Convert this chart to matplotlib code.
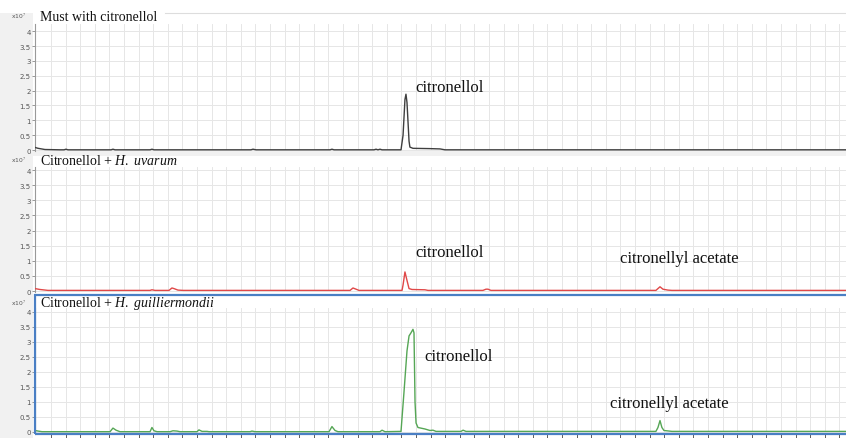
import matplotlib
matplotlib.use('Agg')
import matplotlib.pyplot as plt
from matplotlib.patches import Rectangle
from matplotlib.lines import Line2D
import numpy as np

plt.rcParams['font.family'] = 'Liberation Serif'
plt.rcParams['mathtext.fontset'] = 'custom'
plt.rcParams['mathtext.rm'] = 'Liberation Serif'
plt.rcParams['mathtext.it'] = 'Liberation Serif:italic'

# retention time (min) and abundance (x10^7) for each chromatogram
rt_must = [2.90, 3.11, 3.58, 4.61, 4.89, 5.02, 5.16, 8.11, 8.24, 8.38, 10.78, 10.91, 11.05,
           17.69, 17.83, 18.04, 23.11, 23.24, 23.38, 26.12, 26.26, 26.39, 26.53, 26.67,
           27.97, 28.11, 28.24, 28.31, 28.38, 28.52, 28.58, 28.79, 29.95, 30.64, 30.98, 58.45]
ab_must = [0.09, 0.06, 0.02, 0.01, 0.01, 0.03, 0.01, 0.01, 0.03, 0.01, 0.01, 0.03, 0.01,
           0.01, 0.03, 0.01, 0.01, 0.03, 0.01, 0.01, 0.03, 0.01, 0.03, 0.01,
           0.01, 0.5, 1.7, 1.88, 1.6, 0.3, 0.1, 0.06, 0.05, 0.04, 0.01, 0.01]

rt_uva = [2.90, 3.24, 3.79, 10.78, 10.91, 11.12, 12.08, 12.28, 12.42, 12.69, 13.04,
          24.48, 24.68, 24.89, 25.09, 28.04, 28.11, 28.24, 28.38, 28.52, 28.72, 29.61, 29.82,
          33.58, 33.79, 33.93, 34.13, 45.43, 45.71, 45.91, 46.25, 46.53, 58.45]
ab_uva = [0.08, 0.05, 0.02, 0.02, 0.04, 0.02, 0.02, 0.1, 0.08, 0.03, 0.02,
          0.02, 0.1, 0.06, 0.02, 0.02, 0.2, 0.63, 0.35, 0.08, 0.05, 0.04, 0.02,
          0.02, 0.06, 0.06, 0.02, 0.02, 0.14, 0.06, 0.03, 0.02, 0.02]

rt_gui = [2.90, 3.11, 3.38, 8.04, 8.24, 8.45, 8.72, 10.78, 10.91, 11.05, 11.26,
          12.15, 12.35, 12.63, 12.83, 14.00, 14.13, 14.34, 14.68, 14.82, 17.63, 17.76, 17.97,
          23.04, 23.24, 23.45, 23.65, 26.53, 26.67, 26.87, 27.97, 28.17, 28.38, 28.52, 28.65,
          28.79, 28.86, 28.93, 29.00, 29.13, 29.61, 29.95, 30.16, 30.37, 32.08, 32.22, 32.42,
          45.43, 45.57, 45.71, 45.84, 45.98, 46.53, 58.45]
ab_gui = [0.05, 0.03, 0.01, 0.01, 0.13, 0.06, 0.01, 0.01, 0.15, 0.04, 0.01,
          0.01, 0.04, 0.03, 0.01, 0.01, 0.07, 0.02, 0.02, 0.01, 0.01, 0.03, 0.01,
          0.01, 0.18, 0.05, 0.01, 0.01, 0.06, 0.01, 0.02, 1.3, 2.7, 3.2, 3.3,
          3.42, 3.3, 1.0, 0.3, 0.15, 0.1, 0.05, 0.06, 0.02, 0.02, 0.06, 0.02,
          0.02, 0.15, 0.38, 0.15, 0.05, 0.02, 0.02]

ytick_vals = [0, 0.5, 1, 1.5, 2, 2.5, 3, 3.5, 4]
ytick_labels = ['0', '0.5', '1', '1.5', '2', '2.5', '3', '3.5', '4']

W, H = 846, 439
fig = plt.figure(figsize=(W / 100, H / 100), dpi=100)
fig.patch.set_facecolor('white')


def fx(px):
    return px / W


def fy(py):
    return 1 - py / H


# grey frame pieces of the software window
fig.add_artist(Rectangle((0, fy(439)), fx(33), (439 - 14) / H, transform=fig.transFigure,
                         facecolor='#f1f1f1', edgecolor='none', zorder=0))
fig.add_artist(Rectangle((fx(33), fy(157)), 1, 5 / H, transform=fig.transFigure,
                         facecolor='#f1f1f1', edgecolor='none', zorder=0))
fig.add_artist(Line2D([fx(165), 1], [fy(14), fy(14)], transform=fig.transFigure,
                      color='#dddddd', lw=0.8))

panels = [
    # (top px, bottom px, ylim, rt, ab, colour, title, title baseline px)
    (25, 152, (-0.03, 4.24), rt_must, ab_must, '#3f3f3f', 'Must with citronellol', 21),
    (168, 293, (-0.033, 4.1), rt_uva, ab_uva, '#e04848', r'Citronellol + $\it{H.\ uvarum}$', 165),
    (309, 435, (-0.067, 4.13), rt_gui, ab_gui, '#55a655', r'Citronellol + $\it{H.\ guilliermondii}$', 307.5),
]

axes = []
for top, bot, ylim, rt, ab, col, title, ty in panels:
    ax = fig.add_axes([fx(35), fy(bot), fx(846) - fx(35), (bot - top) / H])
    ax.plot(rt, ab, color=col, lw=1.0, zorder=3)
    ax.set_xlim(2.9, 58.45)
    ax.set_ylim(*ylim)
    ax.set_xticks(np.arange(4, 59, 1))
    ax.set_yticks(ytick_vals)
    ax.set_yticklabels(ytick_labels)
    ax.grid(True, color='#e6e6e6', lw=0.7)
    ax.set_axisbelow(True)
    for s in ['top', 'right', 'bottom']:
        ax.spines[s].set_visible(False)
    ax.spines['left'].set_color('#9a9a9a')
    ax.spines['left'].set_linewidth(0.8)
    ax.tick_params(axis='y', labelsize=5, labelcolor='#555555', color='#888888',
                   length=2, width=0.6, pad=1)
    ax.tick_params(axis='x', bottom=False, labelbottom=False)
    for lab in ax.get_yticklabels():
        lab.set_family('DejaVu Sans')
    fig.text(fx(40), fy(ty), title, fontsize=10, color='#111111', va='baseline', zorder=11)
    fig.text(fx(19), fy(ty - 2), 'x10$^{7}$', fontsize=4.3, color='#555555',
             ha='center', va='baseline', family='DejaVu Sans')
    axes.append(ax)

ax1, ax2, ax3 = axes
ax3.tick_params(axis='x', bottom=True, length=3, width=0.6, color='#444444')

# peak labels
lab_kw = dict(fontsize=12, color='#111111', va='baseline')
ax1.text(28.93, 1.99, 'citronellol', **lab_kw)
ax2.text(28.93, 1.16, 'citronellol', **lab_kw)
ax2.text(42.97, 0.96, 'citronellyl acetate', **lab_kw)
ax3.text(29.54, 2.4, 'citronellol', **lab_kw)
ax3.text(42.28, 0.83, 'citronellyl acetate', **lab_kw)

# selected panel frame (right side runs off the window)
fig.add_artist(Rectangle((fx(35), fy(435)), 1.02 - fx(35), (435 - 295.5) / H, transform=fig.transFigure,
                         facecolor='none', edgecolor='#4a7fc4', lw=1.6, zorder=10))

fig.savefig('out.png', dpi=100, facecolor=fig.get_facecolor())
